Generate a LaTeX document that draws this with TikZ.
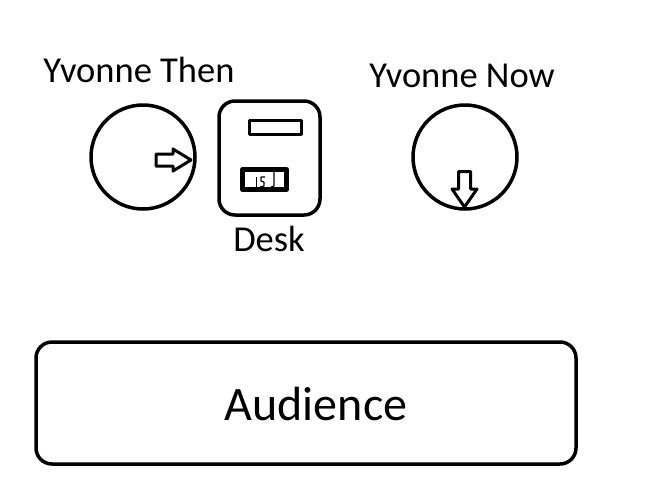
\documentclass[tikz,border=0pt]{standalone}
\usepackage{fontspec}
\setmainfont{Carlito}
\begin{document}
\begin{tikzpicture}[x=1pt,y=-1pt,line join=round,
  seat/.style={circle,draw,line width=3.5pt,minimum size=104pt,inner sep=0pt},
  label/.style={anchor=base,font=\fontsize{36.5}{40}\selectfont}]
\useasboundingbox (0,0) rectangle (653,477);
\node[seat] (then) at (143,157) {};
\node[seat] (now) at (465,157) {};
\node[label] (thentext) at (139,82) {Yvonne Then};
\node[label] (nowtext) at (462,87) {Yvonne Now};
% desk
\draw[line width=3.5pt,rounded corners=16pt] (219,101) rectangle (320,215);
\draw[line width=3pt] (249,120) rectangle (301,134);
\draw[line width=5pt] (242.5,169.5) rectangle (286.5,189.5);
\draw[line width=1.2pt] (256.5,177) -- (256.5,187);
\draw[line width=1.2pt] (265,177) -- (261,177) -- (261,181) -- (264,182) -- (264,186) -- (260,187);
\draw[line width=1.2pt] (274,172) -- (274,186) -- (271,187);
\node[label] (desk) at (269,251) {Desk};
% facing arrows
\draw[line width=3pt] (156,154) -- (173,154) -- (173,149) -- (191,160) -- (173,171) -- (173,166) -- (156,166) -- cycle;
\draw[line width=3pt] (458.5,171.5) -- (470.5,171.5) -- (470.5,189) -- (477,189) -- (464.5,207) -- (452,189) -- (458.5,189) -- cycle;
% audience
\draw[line width=3.5pt,rounded corners=16pt] (36,342) rectangle (576,464);
\node[anchor=base,font=\fontsize{48}{52}\selectfont] (audience) at (316,420) {Audience};
\end{tikzpicture}
\end{document}
